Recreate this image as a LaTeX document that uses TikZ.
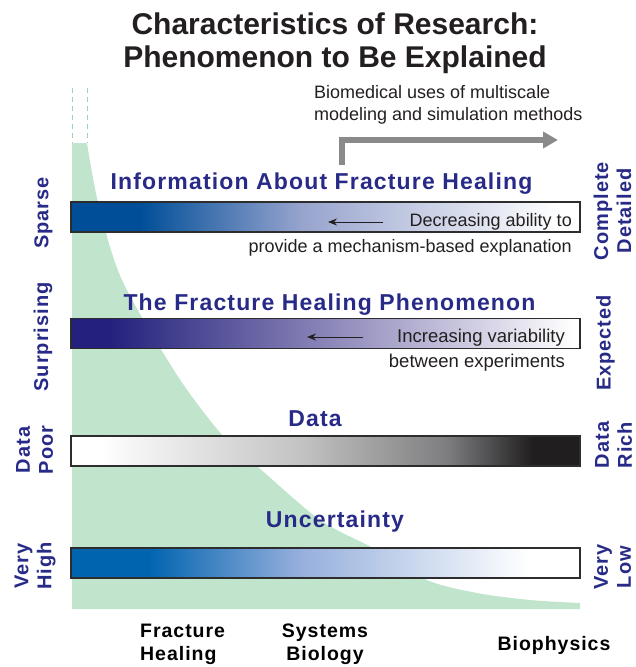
\documentclass[tikz,border=0pt]{standalone}
\usepackage{fontspec}
\setmainfont{Liberation Sans}
\newfontfamily\headfont[LetterSpace=5]{Liberation Sans}
\usetikzlibrary{arrows.meta}

\definecolor{healgreen}{RGB}{192,228,204}
\definecolor{dashgreen}{RGB}{160,210,178}
\definecolor{navy}{RGB}{40,42,135}
\definecolor{barline}{RGB}{45,45,45}
\definecolor{usegray}{RGB}{138,138,138}
\definecolor{textgray}{RGB}{35,31,32}
\definecolor{infoblue}{RGB}{0,78,152}
\definecolor{infomid}{RGB}{150,163,205}
\definecolor{phenblue}{RGB}{35,33,125}
\definecolor{phenmid}{RGB}{140,135,185}
\definecolor{datamid}{RGB}{195,195,195}
\definecolor{datadark}{RGB}{125,125,127}
\definecolor{datablack}{RGB}{32,30,31}
\definecolor{uncblue}{RGB}{0,100,175}
\definecolor{uncmid}{RGB}{150,175,220}

% shadings, 25bp..75bp is the bar itself
\pgfdeclarehorizontalshading{infoshade}{100bp}{color(0bp)=(infoblue); color(31.8bp)=(infoblue);
  color(47.5bp)=(infomid); color(73bp)=(white); color(100bp)=(white)}
\pgfdeclarehorizontalshading{phenshade}{100bp}{color(0bp)=(phenblue); color(28.8bp)=(phenblue);
  color(50.4bp)=(phenmid); color(74.5bp)=(white); color(100bp)=(white)}
\pgfdeclarehorizontalshading{datashade}{100bp}{color(0bp)=(white); color(27.8bp)=(white);
  color(47.5bp)=(datamid); color(62bp)=(datadark); color(70.4bp)=(datablack); color(100bp)=(datablack)}
\pgfdeclarehorizontalshading{uncshade}{100bp}{color(0bp)=(uncblue); color(32.5bp)=(uncblue);
  color(47.5bp)=(uncmid); color(70bp)=(white); color(100bp)=(white)}

\tikzset{
  bar/.style={draw=barline, line width=1.4pt, shade, minimum width=509pt, minimum height=30pt, inner sep=0pt},
  bartitle/.style={text=navy, font=\headfont\bfseries\fontsize{23}{26}\selectfont, anchor=base, inner sep=0pt},
  sidelabel/.style={text=navy, font=\headfont\bfseries\fontsize{20}{23}\selectfont, rotate=90, align=center, inner sep=0pt},
  botlabel/.style={text=black, font=\headfont\bfseries\fontsize{19.5}{23}\selectfont, inner sep=0pt},
  note/.style={text=textgray, font=\fontsize{18}{22}\selectfont, anchor=base east, inner sep=0pt},
  titletext/.style={text=textgray, font=\bfseries\fontsize{30}{33}\selectfont, anchor=base, inner sep=0pt},
  smallarrow/.style={-{Stealth[length=9pt,width=7pt]}, line width=0.9pt, textgray},
  usearrow/.style={-{Triangle[length=15pt,width=16pt]}, line width=5.5pt, usegray}
}

\begin{document}
\begin{tikzpicture}[x=1pt, y=-1pt]
    \useasboundingbox (0,0) rectangle (636,667);

    % title
    \node[titletext] (title1) at (335,34) {Characteristics of Research:};
    \node[titletext] (title2) at (335,67) {Phenomenon to Be Explained};

    % green region
    \fill[healgreen] (72,609) -- (72,143) -- plot[smooth] coordinates {(87,143) (98,202) (122,280)
        (177,375) (223,436) (257,466) (320,520) (373,548) (427,580) (477,593) (530,600) (580,603)}
        -- (580,609) -- cycle;
    \draw[dashgreen, line width=1pt, dash pattern=on 5pt off 4pt] (72,88) -- (72,143);
    \draw[dashgreen, line width=1pt, dash pattern=on 5pt off 4pt] (87,88) -- (87,143);

    % multiscale arrow
    \node[text=textgray, font=\fontsize{18}{22}\selectfont, anchor=base west, inner sep=0pt] (uses1) at (314,98) {Biomedical uses of multiscale};
    \node[text=textgray, font=\fontsize{18}{22}\selectfont, anchor=base west, inner sep=0pt] (uses2) at (314,120) {modeling and simulation methods};
    \coordinate (useA) at (342,165);
    \coordinate (useB) at (342,140);
    \coordinate (useC) at (558,140);
    \draw[usearrow] (useA) -- (useB) -- (useC);

    % information
    \node[bartitle] (infotitle) at (321.5,189) {Information About Fracture Healing};
    \node[bar, shading=infoshade] (infobar) at (325.5,217) {};
    \node[note] (dec1) at (572,226) {Decreasing ability to};
    \node[note] (dec2) at (572,252) {provide a mechanism-based explanation};
    \coordinate (decR) at (383,222);
    \coordinate (decL) at (328,222);
    \draw[smallarrow] (decR) -- (decL);

    % phenomenon
    \node[bartitle] (phentitle) at (329.5,310) {The Fracture Healing Phenomenon};
    \node[bar, shading=phenshade] (phenbar) at (325.5,333.5) {};
    \node[note, font=\fontsize{18.5}{22}\selectfont] (var1) at (565,342) {Increasing variability};
    \node[note, font=\fontsize{18.5}{22}\selectfont] (var2) at (565,367) {between experiments};
    \coordinate (varR) at (363,337);
    \coordinate (varL) at (307,337);
    \draw[smallarrow] (varR) -- (varL);

    % data
    \node[bartitle] (datatitle) at (315,426) {Data};
    \node[bar, shading=datashade] (databar) at (325.5,451) {};

    % uncertainty
    \node[bartitle] (unctitle) at (335,527) {Uncertainty};
    \node[bar, shading=uncshade] (uncbar) at (325.5,563) {};

    % left and right ends
    \node[sidelabel] (sparse) at (43.5,213) {Sparse};
    \node[sidelabel] (surprising) at (43,337) {Surprising};
    \node[sidelabel] (datapoor) at (34.5,450) {Data\\Poor};
    \node[sidelabel] (veryhigh) at (35,566) {Very\\High};
    \node[sidelabel] (complete) at (612.5,211) {Complete\\Detailed};
    \node[sidelabel] (expected) at (605.5,343) {Expected};
    \node[sidelabel] (datarich) at (613.5,445) {Data\\Rich};
    \node[sidelabel] (verylow) at (612.5,567) {Very\\Low};

    % fields
    \node[botlabel, align=left, anchor=north west] (fracture) at (140,624) {Fracture\\Healing};
    \node[botlabel, align=center, anchor=north] (systems) at (325,624) {Systems\\Biology};
    \node[botlabel, anchor=base] (biophysics) at (554,650) {Biophysics};
\end{tikzpicture}
\end{document}
